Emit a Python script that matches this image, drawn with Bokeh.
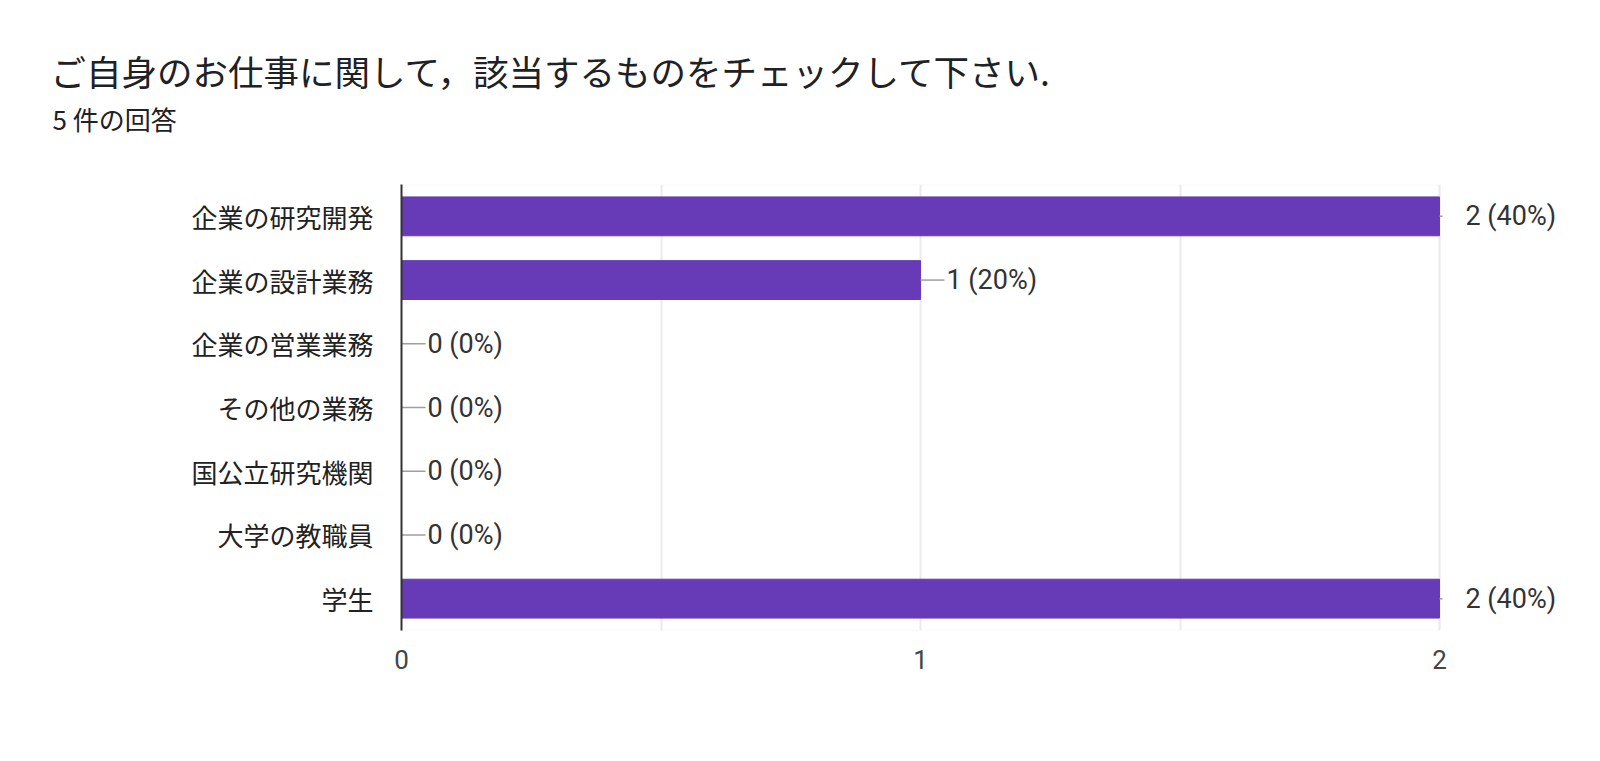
from bokeh.plotting import figure
from bokeh.models import Range1d, FixedTicker, Title, BoxAnnotation
from bokeh.core.properties import value
from bokeh.embed import file_html
from bokeh.resources import INLINE

# ---- data ----
title_text = "ご自身のお仕事に関して，該当するものをチェックして下さい."
subtitle_text = "5 件の回答"
categories = ["企業の研究開発", "企業の設計業務", "企業の営業業務", "その他の業務",
              "国公立研究機関", "大学の教職員", "学生"]
counts = [2, 1, 0, 0, 0, 0, 2]
total_responses = 5
x_ticks = [0, 1, 2]
x_grid_ticks = [0, 0.5, 1, 1.5, 2]

labels = [f"{c} ({round(100 * c / total_responses)}%)" for c in counts]
ypos = list(range(len(categories)))

# ---- layout ----
W, H = 1600, 761
frame_left, frame_top, frame_bottom = 401, 184, 630
x_max_px = 1439
right_border = 20
frame_w = W - frame_left - right_border
x_end = max(x_ticks) * frame_w / (x_max_px - frame_left)

CJK = "Noto Sans CJK JP"
LAT = "Roboto"

p = figure(width=W, height=H, output_backend="svg", toolbar_location=None,
           x_range=Range1d(0, x_end),
           y_range=Range1d(len(categories) - 0.5, -0.5),
           min_border_left=frame_left, min_border_right=right_border,
           min_border_top=frame_top, min_border_bottom=H - frame_bottom,
           title=None)
p.background_fill_color = "white"
p.border_fill_color = "white"
p.outline_line_color = None

# grid
p.xgrid.ticker = FixedTicker(ticks=x_grid_ticks)
p.xgrid.grid_line_color = "#ebebeb"
p.xgrid.grid_line_width = 2
p.ygrid.visible = False

box = BoxAnnotation(left=0, right=max(x_ticks), fill_alpha=0,
                    line_color="#ebebeb", line_width=2, level="underlay")
p.add_layout(box)

# y axis
p.yaxis.ticker = FixedTicker(ticks=ypos)
p.yaxis.major_label_overrides = {i: c for i, c in zip(ypos, categories)}
p.yaxis.axis_line_color = "#333333"
p.yaxis.axis_line_width = 2
p.yaxis.major_tick_line_color = None
p.yaxis.minor_tick_line_color = None
p.yaxis.major_label_text_font = CJK
p.yaxis.major_label_text_font_size = "26px"
p.yaxis.major_label_text_color = "#222222"
p.yaxis.major_label_standoff = 22

# x axis
p.xaxis.ticker = FixedTicker(ticks=x_ticks)
p.xaxis.axis_line_color = None
p.xaxis.major_tick_line_color = None
p.xaxis.minor_tick_line_color = None
p.xaxis.major_label_text_font = LAT
p.xaxis.major_label_text_font_size = "26px"
p.xaxis.major_label_text_color = "#444444"
p.xaxis.major_label_standoff = 13

# bars
p.hbar(y=ypos, left=0, right=counts, height=0.61, color="#673ab7")

# leader lines
max_c = max(counts)
leader = [3 if c == max_c else 24 for c in counts]
p.ray(x=counts, y=ypos, length=leader, length_units="screen", angle=0,
      line_color="#9e9e9e", line_width=1.5)

# value labels
p.text(x=counts, y=ypos, text=labels, x_offset=26, text_baseline="middle",
       text_align="left", text_font_size="27px", text_color="#333333",
       text_font=value(LAT))

# titles (first added sits closest to the frame)
spacer = Title(text=" ", text_font_size="1px", standoff=45)
sub = Title(text=subtitle_text, text_font=CJK, text_font_size="26px",
            text_font_style="normal", text_color="#202124", align="left",
            offset=52 - frame_left, standoff=0)
main = Title(text=title_text, text_font=CJK, text_font_size="35.5px",
             text_font_style="normal", text_color="#202124", align="left",
             offset=50 - frame_left, standoff=4)
p.add_layout(spacer, "above")
p.add_layout(sub, "above")
p.add_layout(main, "above")

open("out.html", "w").write(file_html(p, INLINE))
